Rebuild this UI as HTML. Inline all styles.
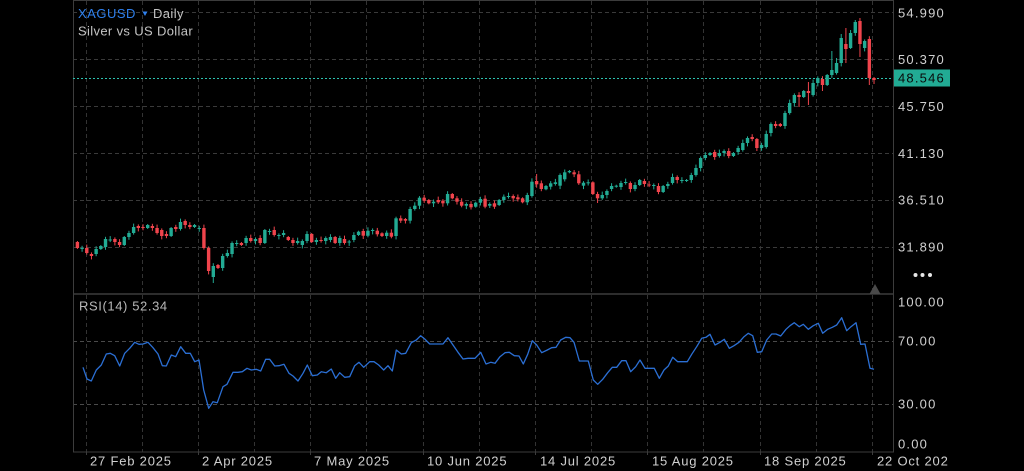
<!DOCTYPE html>
<html><head><meta charset="utf-8"><style>
html,body{margin:0;padding:0;background:#000;width:1024px;height:471px;overflow:hidden}
svg{display:block}
text{font-family:"Liberation Sans",sans-serif}
</style></head><body>
<svg id="c" width="1024" height="471" viewBox="0 0 1024 471" xmlns="http://www.w3.org/2000/svg">
<rect width="1024" height="471" fill="#000"/>
<!-- vertical grid -->
<g stroke="#333" stroke-width="1" stroke-dasharray="4 3">
<line x1="86.5" y1="1" x2="86.5" y2="452"/>
<line x1="142.5" y1="1" x2="142.5" y2="452"/>
<line x1="198.5" y1="1" x2="198.5" y2="452"/>
<line x1="254.5" y1="1" x2="254.5" y2="452"/>
<line x1="310.5" y1="1" x2="310.5" y2="452"/>
<line x1="366.5" y1="1" x2="366.5" y2="452"/>
<line x1="423.5" y1="1" x2="423.5" y2="452"/>
<line x1="479.5" y1="1" x2="479.5" y2="452"/>
<line x1="535.5" y1="1" x2="535.5" y2="452"/>
<line x1="591.5" y1="1" x2="591.5" y2="452"/>
<line x1="647.5" y1="1" x2="647.5" y2="452"/>
<line x1="703.5" y1="1" x2="703.5" y2="452"/>
<line x1="760.5" y1="1" x2="760.5" y2="452"/>
<line x1="816.5" y1="1" x2="816.5" y2="452"/>
<line x1="872.5" y1="1" x2="872.5" y2="452"/>
</g>
<!-- horizontal price grid -->
<g stroke="#3a3a3a" stroke-width="1" stroke-dasharray="4 3">
<line x1="73" y1="12.5" x2="893" y2="12.5"/>
<line x1="73" y1="59.5" x2="893" y2="59.5"/>
<line x1="73" y1="106.5" x2="893" y2="106.5"/>
<line x1="73" y1="153.5" x2="893" y2="153.5"/>
<line x1="73" y1="200.5" x2="893" y2="200.5"/>
<line x1="73" y1="247.5" x2="893" y2="247.5"/>
</g>
<!-- RSI bands -->
<g stroke="#4a4a4a" stroke-width="1" stroke-dasharray="4 3">
<line x1="73" y1="341.5" x2="893" y2="341.5"/>
<line x1="73" y1="404.5" x2="893" y2="404.5"/>
</g>
<!-- borders -->
<g stroke="#3c3c3c" stroke-width="1" fill="none">
<line x1="73.5" y1="0" x2="73.5" y2="452"/>
<line x1="73" y1="0.5" x2="894" y2="0.5"/>
<line x1="893.5" y1="0" x2="893.5" y2="452"/>
<line x1="73" y1="452" x2="894" y2="452"/>
<line x1="73" y1="294" x2="894" y2="294" stroke-width="1.5"/>
</g>
<!-- tick marks -->
<g stroke="#3c3c3c" stroke-width="1">
<line x1="86.5" y1="452" x2="86.5" y2="455"/>
<line x1="198.5" y1="452" x2="198.5" y2="455"/>
<line x1="310.5" y1="452" x2="310.5" y2="455"/>
<line x1="423.5" y1="452" x2="423.5" y2="455"/>
<line x1="535.5" y1="452" x2="535.5" y2="455"/>
<line x1="647.5" y1="452" x2="647.5" y2="455"/>
<line x1="760.5" y1="452" x2="760.5" y2="455"/>
<line x1="872.5" y1="452" x2="872.5" y2="455"/>
</g>
<!-- price line -->
<line x1="73" y1="78.5" x2="893" y2="78.5" stroke="#2cc2b0" stroke-width="1" stroke-dasharray="2 2"/>
<g id="candles"></g>
<!-- RSI -->
<polyline fill="none" stroke="#2b6fd4" stroke-width="1.3" stroke-linejoin="round" points="83,367.3 87,379 91.3,381 96.3,370 101.3,365 106.3,354 110.3,353.3 114.7,355.7 119.7,366 124.7,353.3 129.7,348.3 134.7,342.3 139,344.3 143,344 148,342.3 153,347.7 158,354 162.3,365.7 166.3,366 171.3,355 175.7,356.7 180.7,346.7 185.7,353.3 190.3,353.3 194.7,361.7 199,360 203.7,390 208.7,408.3 213,401.7 217.3,402.7 223,386.7 227,384.3 233,372.3 238,372.3 242.3,371.7 247,368.3 251.3,370 256.3,369.3 260.7,371 265.7,359.3 269.7,359.3 274.7,366 279,365.7 284,364.3 289,373.3 293,376 298,381 303,373.3 307.3,365 312.3,375.7 317.3,375 321.3,371.7 326.3,372.7 331.3,369 335.7,378.3 339.7,372.7 344.7,377.3 349.7,376.7 354.7,365.7 359,362.3 363.7,367.3 369.7,361.7 374,361.7 378.7,365 383.7,370 388,365.7 392.3,371 396.3,350 401.3,354 405.7,353.3 411.3,342.7 416.3,340 420.7,335.7 424.7,339 429.7,344 434.7,344 439,344 443,344 448,337.7 453,345 458,352.3 463,359 468,358.3 475,358.3 480.7,352.3 486,364 490.7,362.3 495,363.3 500,356.7 505,352.7 509.3,352.3 514.3,355.7 519,356 523.3,364 527.7,354.3 532.3,340.7 536.7,345 541.7,352.7 547.3,350 551.7,347.7 556,347.3 560.7,340 565.7,337.3 570,337.7 574,342.3 579.3,361 583.3,361 588.3,361 593.3,380 597.7,384.3 602.7,379.3 607.7,372.7 612.3,367.3 616.7,367.3 621.7,360.7 626,360.7 630.7,371.7 635.7,366.7 640,360 645,368.3 650,368.3 654.3,368.3 659.3,378.3 664,370 668.3,366 672.7,357.3 677.7,361.7 682.3,361.7 687.3,361.7 691.7,354.3 696.7,346.7 701.7,338.3 706,337.3 710,334.3 715,345 720,342.3 724.3,339.3 729.3,348.3 734,345.7 739,342.3 744,336.7 748.3,333.3 752.7,335.7 757.3,352.3 761.7,351.7 766.7,340 771.7,334 776,334 780.7,336 786,329.3 790,325.7 794.3,322.7 799.3,326.7 803.3,324.3 808.3,329.3 813.3,325.7 818.3,323.3 822.7,333.3 827.7,329.3 832.3,327.3 836.7,325 841.7,317.7 846.7,330.7 851,326.7 856,322.7 860.7,344.3 865,344 870,368.3 874,369.3"/>
<!-- title -->
<text x="78" y="18" font-size="13" fill="#2f80ed" letter-spacing="0.5">XAGUSD</text>
<polygon points="142.5,11.5 147.5,11.5 145,16" fill="#2f80ed"/>
<text x="153" y="18" font-size="13" fill="#c4c4c4" letter-spacing="0.4">Daily</text>
<text x="78" y="35.5" font-size="13" fill="#c4c4c4" letter-spacing="0.35">Silver vs US Dollar</text>
<text x="79" y="310.7" font-size="13" fill="#b8b8b8" letter-spacing="0.6">RSI(14) 52.34</text>
<!-- price axis -->
<g font-size="13" fill="#d0d0d0" letter-spacing="1.2">
<text x="898" y="17.4">54.990</text>
<text x="898" y="64.2">50.370</text>
<text x="898" y="111.2">45.750</text>
<text x="898" y="157.8">41.130</text>
<text x="898" y="204.7">36.510</text>
<text x="898" y="251.7">31.890</text>
<text x="898" y="306.7">100.00</text>
<text x="898" y="345.7">70.00</text>
<text x="898" y="408.7">30.00</text>
<text x="898" y="448.4">0.00</text>
</g>
<rect x="894" y="69.5" width="56" height="17" fill="#22ab94"/>
<text x="898" y="82.6" font-size="13" fill="#0a0a0a" letter-spacing="1.2">48.546</text>
<!-- dots and triangle -->
<circle cx="915.5" cy="275" r="2" fill="#e6e6e6"/>
<circle cx="922.5" cy="275" r="2" fill="#e6e6e6"/>
<circle cx="930" cy="275" r="2" fill="#e6e6e6"/>
<polygon points="869.5,294 875,284 880.5,294" fill="#4a4a4a"/>
<!-- date axis -->
<g font-size="13" fill="#d0d0d0" letter-spacing="0.8">
<text x="90" y="465.7">27 Feb 2025</text>
<text x="202" y="465.7">2 Apr 2025</text>
<text x="314" y="465.7">7 May 2025</text>
<text x="427" y="465.7">10 Jun 2025</text>
<text x="540" y="465.7">14 Jul 2025</text>
<text x="652" y="465.7">15 Aug 2025</text>
<text x="764" y="465.7">18 Sep 2025</text>
<text x="877" y="465.7">22 Oct 202</text>
</g>
</svg>
<script>
(function(){
var D=[[242,248],[249,248],[248,253],[254,256],[254,249],[249,246],[247,239],[240.5,239.5],[239,242],[242,245],
[245,237],[237,233],[233,227],[226,228],[227,228],[228,225],[226,228],[228,233],[230,236],[234,236],
[236,228],[227,229],[229,222],[221,225],[225,227],[227,225],[229,228],[228,248],[248,271],[277,266],
[265,268],[268,256],[256,253],[254,243],[243.5,243],[243,245],[243,238],[238,241],[241,239],[238,243],
[243,230],[231.5,231],[230,235],[235.5,235],[235,233],[237,240],[240,243],[243,241],[245,241],[241,234],
[234,242],[242,240],[240,240.5],[241,238],[240,237],[237,243],[243,238],[239,243],[242,241.5],[240,235],
[235,231.7],[231,235.7],[235.7,230.7],[231,230],[230.7,234.3],[233.3,236],[236,232.7],[232.7,236.7],[236,218.3],[218.3,220.7],
[219,220.7],[220.7,209],[209,205.7],[205.7,197.7],[197.7,200.7],[200,203.3],[203.3,201.7],[200,202.3],[200.7,203.3],[203.3,194],
[194,198.3],[198.3,201.7],[201.7,205.7],[205.7,204],[204,207.3],[206.7,202.7],[202.7,199],[198.7,206.7],[205.7,204],[203.3,206.7],
[205,200],[200,196.7],[196.7,196],[196,198.3],[197.3,199.3],[198.3,202.3],[202.3,195],[196,181.7],[181,184.3],[183.3,189],
[189.3,186],[186.7,183.3],[184,182.3],[185.7,175],[179.3,172.3],[172.3,171],[172.3,174.3],[174.3,183.3],[185.7,182.7],[183.3,182.3],
[182.3,194],[194,198.3],[198.3,195],[195,191],[189,186],[186.7,185.7],[187,183],[182.5,182],[183,189],[189,185],
[185,180],[181,184],[184.5,185],[185.5,185],[186,192],[192,186],[186,184],[183,177],[177,180],[180.5,180],
[180.5,180],[180,175],[175,168],[168,158],[158,155],[155,153],[152,157],[156,153],[153,151],[151,156],
[156,153],[152,148],[150,143],[143,138],[137,139],[139,148],[148,145],[147,134],[133,124],[124,126],
[124,126],[126,113],[113,103],[103,95],[95,97],[97,91],[91,93],[95,83],[83,78],[79,85],
[85,75],[75,70],[73,63],[63,38],[44,49],[48,33],[33,22],[21,44],[48,41],[39,78],[78,80]];
var W={29:[null,283],61:[null,239],98:[174,null],111:[null,203],154:[null,107],156:[82,105],159:[null,91],161:[51,null],162:[58,null],163:[34,null],164:[28,63],165:[30,null],166:[20,null],167:[18,57],169:[null,85],170:[null,84],70:[null,223.5],76:[null,207],88:[null,208],145:[null,151]};
var UP="#22ab94",DN="#f0444c";
var g=document.getElementById("candles"),h="";
for(var i=0;i<D.length;i++){
 var o=D[i][0],c=D[i][1];
 var cx=77.4+4.686*i;
 var top=Math.min(o,c),bot=Math.max(o,c);
 if(bot-top<1){bot=top+1;}
 var col=(c<=o)?UP:DN;
 var hw=1+((i*37)%5)*0.6,lw=1+((i*53)%5)*0.6;
 var hi=top-hw,lo=bot+lw;
 if(W[i]){if(W[i][0]!=null)hi=W[i][0];if(W[i][1]!=null)lo=W[i][1];}
 h+='<line x1="'+cx.toFixed(2)+'" y1="'+hi+'" x2="'+cx.toFixed(2)+'" y2="'+lo+'" stroke="'+col+'" stroke-width="1"/>';
 h+='<rect x="'+(cx-1.7).toFixed(2)+'" y="'+top+'" width="3.4" height="'+(bot-top)+'" fill="'+col+'"/>';
}
g.innerHTML=h;
})();
</script>
</body></html>
